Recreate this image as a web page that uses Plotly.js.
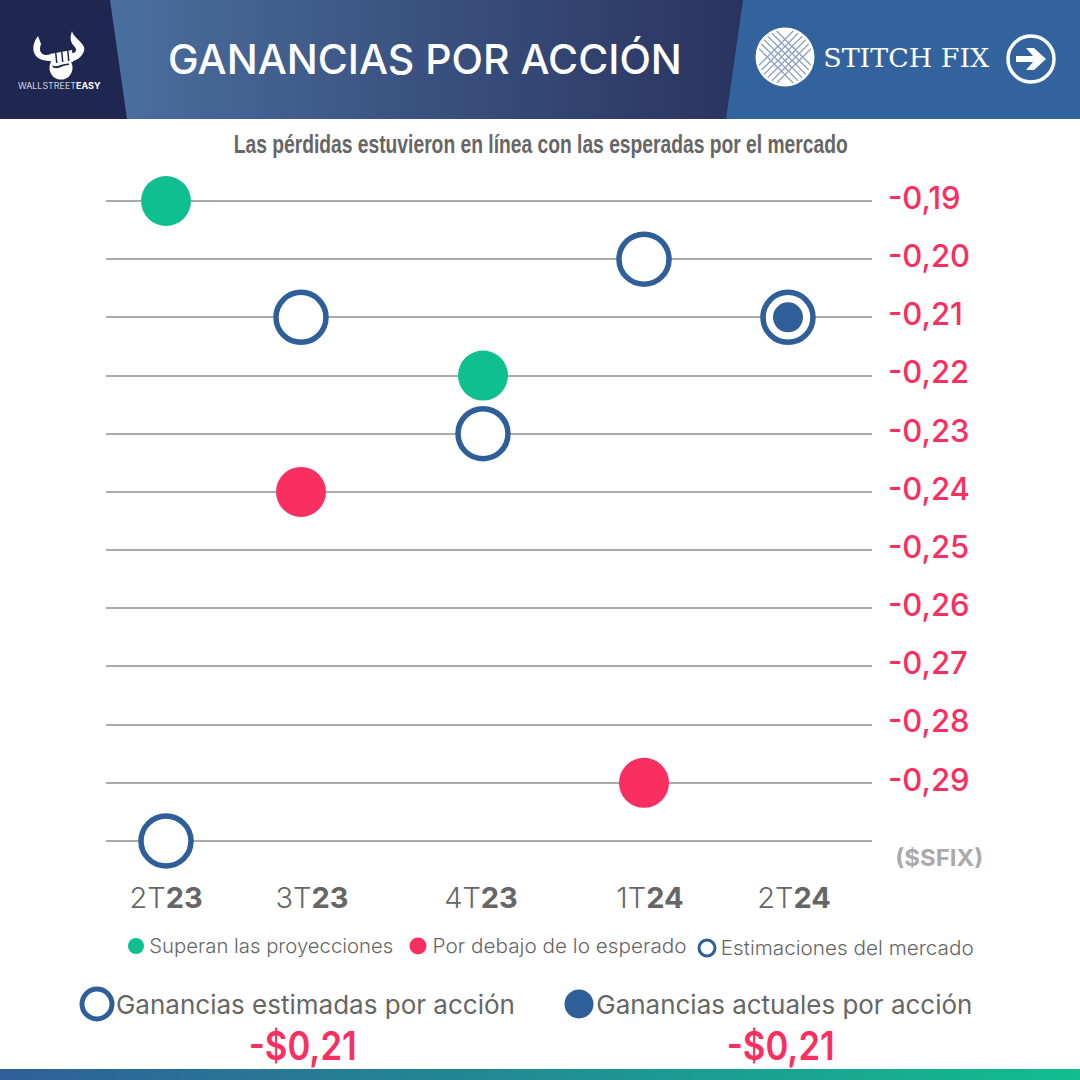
<!DOCTYPE html>
<html>
<head>
<meta charset="utf-8">
<script src="https://cdn.plot.ly/plotly-3.0.1.min.js"></script>
<style>
  html, body { margin: 0; padding: 0; background: #fff; overflow: hidden; }
  #wrap { position: relative; width: 1080px; height: 1080px; }
  #myDiv { position: absolute; left: 0; top: 0; }
  .band { position: absolute; left: 0; width: 1080px; }
  #head { top: 0; height: 119px; background: linear-gradient(90deg, #4a6f9f 10%, #2a335f 69%); }
  #foot { top: 1069px; height: 11px; background: linear-gradient(90deg, #2f5f98, #12bd8f); }
</style>
</head>
<body>
<div id="wrap">
  <div id="head" class="band"></div>
  <div id="foot" class="band"></div>
  <div id="myDiv"></div>
</div>
<script>
// data
var quarters = ['2T<b>23</b>', '3T<b>23</b>', '4T<b>23</b>', '1T<b>24</b>', '2T<b>24</b>'];
var estimates = [-0.30, -0.21, -0.23, -0.20, -0.21];
var actuals = [-0.19, -0.24, -0.22, -0.29, -0.21];
var yTicks = [-0.19, -0.20, -0.21, -0.22, -0.23, -0.24, -0.25, -0.26, -0.27, -0.28, -0.29, -0.30];
var yLabels = ['-0,19', '-0,20', '-0,21', '-0,22', '-0,23', '-0,24', '-0,25', '-0,26', '-0,27', '-0,28', '-0,29', ''];

// the x axis runs in page pixels, the quarters are not evenly spaced in the original
var slotX = [166, 301, 483, 644, 788];
var labelX = [166, 312, 481, 650, 794];

var BLUE = '#2f5f98', GREEN = '#0fbf8f', PINK = '#f92f62', GREY = '#666666';
var SANS = 'Inter, sans-serif';

function px(x) { return x / 1080; }
function py(y) { return 1 - y / 1080; }

// path written in page pixels -> paper coordinates
function pagePath(d) {
  var n = 0;
  return d.replace(/-?[\d.]+/g, function(v) {
    n++;
    return n % 2 ? px(+v) : py(+v);
  });
}
function fillPath(d, color) {
  return { type: 'path', xref: 'paper', yref: 'paper', path: pagePath(d), fillcolor: color, line: { width: 0 } };
}
function circle(cx, cy, r, fill, lineColor, lineWidth) {
  return {
    type: 'circle', xref: 'paper', yref: 'paper',
    x0: px(cx - r), x1: px(cx + r), y0: py(cy + r), y1: py(cy - r),
    fillcolor: fill, line: { color: lineColor || fill, width: lineWidth || 0 }
  };
}
function label(text, x, y, size, color, extra) {
  var font = Object.assign({ family: SANS, size: size, color: color }, extra || {});
  return {
    text: text, x: px(x), y: py(y), xref: 'paper', yref: 'paper', showarrow: false,
    xanchor: 'center', yanchor: 'middle', font: font
  };
}

// actual results split by how they compare with the estimate
function pick(test) {
  var xs = [], ys = [];
  actuals.forEach(function(v, i) {
    if (test(v, estimates[i])) { xs.push(slotX[i]); ys.push(v); }
  });
  return { x: xs, y: ys };
}
var beat = pick(function(a, e) { return a > e; });
var miss = pick(function(a, e) { return a < e; });
var same = pick(function(a, e) { return a === e; });

var data = [
  {
    name: 'Estimaciones del mercado', type: 'scatter', mode: 'markers', cliponaxis: false,
    x: slotX, y: estimates,
    marker: { size: 50, color: '#ffffff', line: { color: BLUE, width: 5.5 } }
  },
  {
    name: 'Superan las proyecciones', type: 'scatter', mode: 'markers', cliponaxis: false,
    x: beat.x, y: beat.y, marker: { size: 50, color: GREEN }
  },
  {
    name: 'Por debajo de lo esperado', type: 'scatter', mode: 'markers', cliponaxis: false,
    x: miss.x, y: miss.y, marker: { size: 50, color: PINK }
  },
  {
    name: 'Ganancias actuales por acción', type: 'scatter', mode: 'markers', cliponaxis: false,
    x: same.x, y: same.y, marker: { size: 30, color: BLUE }
  }
];

// header blocks and logos
var shapes = [
  fillPath('M0,0 L110,0 L127,119 L0,119 Z', '#1f2750'),
  fillPath('M743,0 L1080,0 L1080,119 L726,119 Z', '#33639c'),
  // bull
  fillPath('M38,36 C30,46 31,62 52,61 L51,54 C42,57 38,52 41,44 Z', '#ffffff'),
  fillPath('M72,31 C73,38 87,44 84,51 C81,59 74,62 69,61 L70,53 C76,54 78,50 74,46 C70,42 70,37 72,31 Z', '#ffffff'),
  fillPath('M50,54 L72,50 L73,62 L51,65 Z', '#ffffff'),
  circle(61, 68, 11.5, '#ffffff'),
  fillPath('M55,53 L56,63 L57.5,63 L56.5,53 Z M61,52 L62,62 L63.5,62 L62.5,52 Z M67,50 L68,61 L69.5,61 L68.5,50 Z', '#1f2750'),
  fillPath('M52,65.5 C58,68 62,63 69,63.5 L69,65 C62,65 59,70 53,67.5 Z', '#1f2750'),
  // stitch fix mark
  circle(785, 57, 29.5, '#ffffff')
];
var hatch = [-12.5, -7.5, -2.5, 2.5, 7.5, 12.5];
hatch.forEach(function(d) {
  var half = Math.sqrt(29 * 29 - d * d) - 2;
  var k = Math.SQRT1_2;
  var a = d * k, h = half * k;
  shapes.push({
    type: 'path', xref: 'paper', yref: 'paper',
    path: pagePath('M' + (785 + a - h) + ',' + (57 - a - h) + ' L' + (785 + a + h) + ',' + (57 - a + h) +
      ' M' + (785 + a - h) + ',' + (57 + a + h) + ' L' + (785 + a + h) + ',' + (57 + a - h)),
    line: { color: '#93a4c2', width: 1.4 }
  });
});
shapes.push(circle(1031, 59, 23, 'rgba(0,0,0,0)', '#ffffff', 3.5));
shapes.push(fillPath('M1016,56 L1033,56 L1026,48 L1034,48 L1046,59 L1034,70 L1026,70 L1033,62 L1016,62 Z', '#ffffff'));
// hand made legend keys
shapes.push(circle(136, 946, 8, GREEN));
shapes.push(circle(418, 946, 8.5, PINK));
shapes.push(circle(707, 948, 8, '#ffffff', BLUE, 3));
shapes.push(circle(97, 1004, 15, '#ffffff', BLUE, 5));
shapes.push(circle(579, 1004, 14.5, BLUE));

var annotations = [
  label('WALLSTREET<b>EASY</b>', 59, 85, 9, '#ffffff', { weight: 300 }),
  label('STITCH FIX', 906, 58, 26, '#ffffff', { family: '"DejaVu Serif", serif' }),
  label('Las pérdidas estuvieron en línea con las esperadas por el mercado', 540, 144, 26, GREY,
    { family: '"Liberation Sans", sans-serif', weight: 700 }),
  label('($SFIX)', 939, 858, 23, '#aaaaaa', { weight: 700 }),
  label('Superan las proyecciones', 271, 946, 20, GREY, { weight: 300 }),
  label('Por debajo de lo esperado', 559, 946, 20, GREY, { weight: 300 }),
  label('Estimaciones del mercado', 846.5, 948, 20, GREY, { weight: 300 }),
  label('Ganancias estimadas por acción', 315.5, 1004, 26, GREY),
  label('Ganancias actuales por acción', 784, 1004, 26, GREY),
  label('-$0,21', 302, 1045, 39, PINK, { weight: 600 }),
  label('-$0,21', 780, 1045, 39, PINK, { weight: 600 })
];

// original fonts are wider or narrower than the installed ones: text -> width on the page
var textWidths = [
  ['STITCH FIX', 166],
  ['Las pérdidas estuvieron en línea con las esperadas por el mercado', 614],
  ['($SFIX)', 88],
  ['Superan las proyecciones', 244],
  ['Por debajo de lo esperado', 254],
  ['Estimaciones del mercado', 253],
  ['Ganancias estimadas por acción', 399],
  ['Ganancias actuales por acción', 376],
  ['-$0,21', 108]
];

var layout = {
  width: 1080,
  height: 1080,
  margin: { t: 0, r: 0, b: 0, l: 0 },
  paper_bgcolor: 'rgba(0,0,0,0)',
  plot_bgcolor: 'rgba(0,0,0,0)',
  showlegend: false,
  title: {
    text: 'GANANCIAS POR ACCIÓN',
    x: 168 / 1080, xanchor: 'left', xref: 'paper',
    y: py(60), yanchor: 'middle', yref: 'paper',
    font: { family: SANS, size: 41, color: '#ffffff', weight: 500 }
  },
  xaxis: {
    domain: [px(106), px(872)],
    range: [106, 872],
    tickmode: 'array',
    tickvals: labelX,
    ticktext: quarters,
    showgrid: false,
    zeroline: false,
    showline: false,
    ticks: '',
    ticklabelstandoff: 36,
    tickfont: { family: SANS, size: 29, color: GREY, weight: 300 }
  },
  yaxis: {
    // a hair of padding so the first and last grid lines still draw
    domain: [py(842.16), py(199.84)],
    range: [-0.3002, -0.1898],
    side: 'right',
    tickmode: 'array',
    tickvals: yTicks,
    ticktext: yLabels,
    showgrid: true,
    gridcolor: '#aaaaaa',
    gridwidth: 2,
    zeroline: false,
    showline: false,
    ticks: '',
    ticklabelstandoff: 15,
    ticklabelshift: -3,
    tickfont: { family: SANS, size: 31, color: PINK, weight: 500 }
  },
  shapes: shapes,
  annotations: annotations
};

Plotly.newPlot('myDiv', data, layout, { displayModeBar: false, staticPlot: true }).then(function() {
  document.querySelectorAll('#myDiv .annotation-text').forEach(function(el) {
    textWidths.forEach(function(w) {
      if (el.textContent === w[0]) {
        el.setAttribute('textLength', w[1]);
        el.setAttribute('lengthAdjust', 'spacingAndGlyphs');
      }
    });
  });
});
</script>
</body>
</html>
